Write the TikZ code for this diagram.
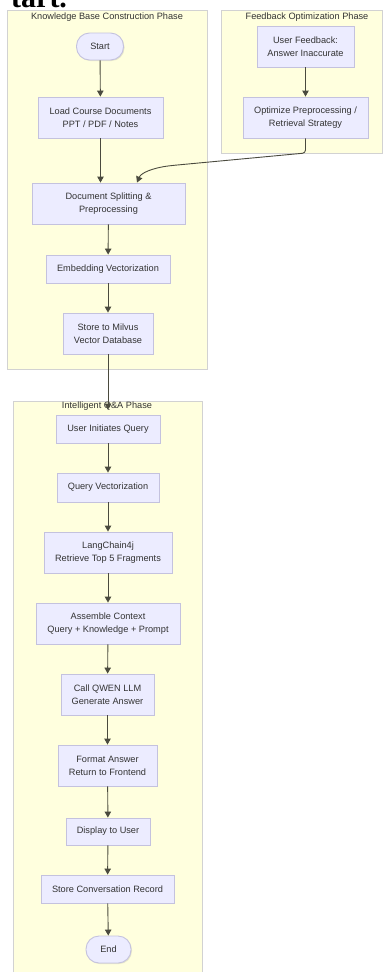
\documentclass[tikz,border=0pt]{standalone}
\usepackage{fontspec}
\setmainfont{Liberation Sans}
\newfontfamily\headserif{Liberation Serif}
\usetikzlibrary{arrows.meta,shadows}

\definecolor{boxfill}{HTML}{ECECFF}
\definecolor{boxedge}{HTML}{C4C2DE}
\definecolor{phasefill}{HTML}{FFFFDE}
\definecolor{phaseedge}{HTML}{D2D2D2}
\definecolor{linkc}{HTML}{4A4A3E}
\definecolor{txt}{HTML}{333333}

\newcommand{\labfont}{\fontsize{9.2}{13}\selectfont}

\tikzset{
  phase/.style={draw=phaseedge, fill=phasefill, line width=0.9pt,
    drop shadow={opacity=0.18, shadow xshift=1pt, shadow yshift=-1pt}},
  phasetitle/.style={font=\labfont, text=txt, inner sep=0pt},
  stepbox/.style={rectangle, draw=boxedge, fill=boxfill, line width=0.9pt,
    align=center, inner sep=0pt, font=\labfont, text=txt,
    drop shadow={opacity=0.2, shadow xshift=1pt, shadow yshift=-1pt}},
  termbox/.style={stepbox, rounded corners=13pt},
  flow/.style={draw=linkc, line width=0.9pt,
    -{Triangle[length=6pt,width=6.5pt]}}
}

\begin{document}
\begin{tikzpicture}[x=1pt,y=-1pt]
\useasboundingbox (0,0) rectangle (385,972);
\clip (0,0) rectangle (385,972);
\fill[white] (0,0) rectangle (385,972);

% tail of the preceding heading
\node[anchor=base west, inner sep=0pt, font=\headserif\bfseries\fontsize{30}{30}\selectfont]
  (heading) at (11,7) {tart.};

% phase frames
\draw[phase] (7,10) rectangle (207,369);
\draw[phase] (221,10) rectangle (382,153);
\draw[phase] (13,401) rectangle (202,990);

\node[phasetitle] (t1) at (107,17.5) {Knowledge Base Construction Phase};
\node[phasetitle] (t2) at (307,17.5) {Feedback Optimization Phase};
\node[phasetitle] (t3) at (107,406) {Intelligent Q\&A Phase};

% knowledge base construction
\node[termbox, minimum width=47pt, minimum height=27pt] (start) at (100,46.5) {Start};
\node[stepbox, minimum width=125pt, minimum height=41pt] (load) at (100.5,117.5)
  {Load Course Documents\\PPT / PDF / Notes};
\node[stepbox, minimum width=153pt, minimum height=41pt] (split) at (108.5,203.5)
  {Document Splitting \&\\Preprocessing};
\node[stepbox, minimum width=124pt, minimum height=28pt] (embed) at (108,269)
  {Embedding Vectorization};
\node[stepbox, minimum width=90pt, minimum height=41pt] (store) at (108,333.5)
  {Store to Milvus\\Vector Database};

% feedback optimization
\node[stepbox, minimum width=97pt, minimum height=41pt] (fb) at (305.5,46.5)
  {User Feedback:\\Answer Inaccurate};
\node[stepbox, minimum width=125pt, minimum height=41pt] (opt) at (305.5,117.5)
  {Optimize Preprocessing /\\Retrieval Strategy};

% intelligent Q&A
\node[stepbox, minimum width=104pt, minimum height=28pt] (query) at (108,429)
  {User Initiates Query};
\node[stepbox, minimum width=102pt, minimum height=29pt] (qvec) at (108,487.5)
  {Query Vectorization};
\node[stepbox, minimum width=128pt, minimum height=41pt] (lang) at (108,552.5)
  {LangChain4j\\Retrieve Top 5 Fragments};
\node[stepbox, minimum width=144pt, minimum height=41pt] (asm) at (108,623.5)
  {Assemble Context\\Query + Knowledge + Prompt};
\node[stepbox, minimum width=93pt, minimum height=41pt] (call) at (107.5,694.5)
  {Call QWEN LLM\\Generate Answer};
\node[stepbox, minimum width=99pt, minimum height=41pt] (fmt) at (107.5,765.5)
  {Format Answer\\Return to Frontend};
\node[stepbox, minimum width=84pt, minimum height=27pt] (disp) at (108,831.5)
  {Display to User};
\node[stepbox, minimum width=133pt, minimum height=28pt] (rec) at (107.5,889)
  {Store Conversation Record};
\node[termbox, minimum width=45pt, minimum height=27pt] (end) at (108.5,949.5) {End};

% connectors
\draw[flow] (start) -- (load);
\draw[flow] (load.south) -- (load.south |- split.north);
\draw[flow] (split) -- (embed);
\draw[flow] (embed) -- (store);
\draw[flow, shorten >=5pt] (store) -- (query);
\draw[flow] (fb) -- (opt);
\draw[flow, rounded corners=3pt] (opt.south) -- (305.5,153) -- (172,165.5)
  .. controls (152,168) and (141,173) .. ([xshift=28.5pt]split.north);
\draw[flow] (query) -- (qvec);
\draw[flow] (qvec) -- (lang);
\draw[flow] (lang) -- (asm);
\draw[flow] (asm) -- (call);
\draw[flow] (call) -- (fmt);
\draw[flow] (fmt) -- (disp);
\draw[flow] (disp) -- (rec);
\draw[flow] (rec) -- (end);
\end{tikzpicture}
\end{document}
